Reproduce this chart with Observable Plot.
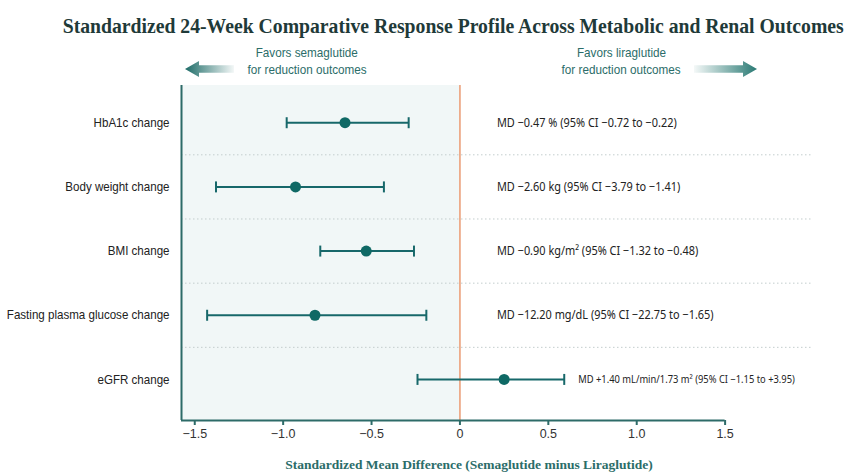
<!DOCTYPE html>
<html><head><meta charset="utf-8">
<script src="https://cdn.jsdelivr.net/npm/d3@7"></script>
<script src="https://cdn.jsdelivr.net/npm/@observablehq/plot@0.6"></script>
<style>
html,body{margin:0;padding:0;background:#fff;}
body{width:845px;height:472px;overflow:hidden;position:relative;font-family:"Liberation Sans",sans-serif;}
#title{position:absolute;left:-147px;top:13px;width:1200px;text-align:center;font-family:"Liberation Serif","DejaVu Serif",serif;font-weight:bold;font-size:22px;line-height:26px;color:#1f3a39;white-space:nowrap;}
#title span{display:inline-block;transform-origin:center;}
.hdr{position:absolute;top:44px;width:200px;text-align:center;font-size:13px;line-height:17px;color:#2b6d69;white-space:nowrap;}
.hdr span{display:inline-block;transform:scaleX(0.9);transform-origin:center;}
.arrow{position:absolute;top:61px;height:16px;}
#chart{position:absolute;left:0;top:80px;}
#xlabel{position:absolute;left:269px;width:400px;top:456px;text-align:center;font-family:"Liberation Serif","DejaVu Serif",serif;font-weight:bold;font-size:13.5px;line-height:18px;color:#2b6d69;white-space:nowrap;}
g[aria-label="x-axis tick"] path{stroke:#2d6b68;stroke-width:2;}
g[aria-label="x-axis tick label"] text{fill:#333;font-family:"Liberation Sans","Open Sans",sans-serif;font-size:12.5px;}
g[aria-label="y-axis tick label"] text{fill:#222;font-family:"Liberation Sans",sans-serif;font-size:13px;}
</style></head>
<body>
<div id="title"><span>Standardized 24-Week Comparative Response Profile Across Metabolic and Renal Outcomes</span></div>
<div class="hdr" style="left:207px"><span>Favors semaglutide</span><br><span>for reduction outcomes</span></div>
<div class="hdr" style="left:521px"><span>Favors liraglutide</span><br><span>for reduction outcomes</span></div>
<div class="arrow" style="left:185px;width:49px;background:linear-gradient(to right,#1d6b67,rgba(29,107,103,0.05));clip-path:polygon(0 50%,14px 0,14px 26%,100% 26%,100% 74%,14px 74%,14px 100%);"></div>
<div class="arrow" style="left:694px;width:63px;background:linear-gradient(to left,#2a7a74,rgba(42,122,116,0.05));clip-path:polygon(100% 50%,calc(100% - 14px) 0,calc(100% - 14px) 26%,0 26%,0 74%,calc(100% - 14px) 74%,calc(100% - 14px) 100%);"></div>
<div id="chart"></div>
<div id="xlabel">Standardized Mean Difference (Semaglutide minus Liraglutide)</div>
<script>
const rows = ["HbA1c change","Body weight change","BMI change","Fasting plasma glucose change","eGFR change"];
const md = [-0.65,-0.93,-0.53,-0.82,0.25];
const lo = [-0.98,-1.38,-0.79,-1.43,-0.24];
const hi = [-0.29,-0.43,-0.26,-0.19,0.59];
const notes = [
  "MD \u22120.47 % (95% CI \u22120.72 to \u22120.22)",
  "MD \u22122.60 kg (95% CI \u22123.79 to \u22121.41)",
  "MD \u22120.90 kg/m\u00b2 (95% CI \u22121.32 to \u22120.48)",
  "MD \u221212.20 mg/dL (95% CI \u221222.75 to \u22121.65)",
  "MD +1.40 mL/min/1.73 m\u00b2 (95% CI \u22121.15 to +3.95)"
];
const xTicks = [-1.5,-1.0,-0.5,0,0.5,1.0,1.5];

const data = rows.map((r,i)=>({i,row:r,md:md[i],lo:lo[i],hi:hi[i],note:notes[i]}));
const X0=-1.575, X1=2.0, Y0=-0.58, Y1=4.64;
const teal="#17686a", axisC="#2d6b68";
const fmt = d => d===0 ? "0" : d3.format(".1f")(d);
const capSymbol = {draw(ctx,size){const h=Math.sqrt(size/Math.PI);ctx.moveTo(0,-h);ctx.lineTo(0,h);}};

const plot = Plot.plot({
  width:845, height:372,
  marginLeft:181, marginRight:32, marginTop:5, marginBottom:32,
  x:{domain:[X0,X1]},
  y:{domain:[Y0,Y1], reverse:true},
  style:{background:"transparent", overflow:"visible"},
  marks:[
    Plot.rect([0],{x1:X0,x2:0,y1:Y0,y2:Y1,fill:"#f1f7f7"}),
    Plot.ruleY(d3.range(rows.length-1).map(i=>i+0.5),{x1:X0,x2:X1,stroke:"#c3cdcd",strokeWidth:1,strokeDasharray:"1.5,2.5"}),
    Plot.ruleX([0],{y1:Y0,y2:Y1,stroke:"#eba07a",strokeWidth:1.6}),
    Plot.ruleX([X0],{y1:Y0,y2:Y1,stroke:axisC,strokeWidth:2}),
    Plot.ruleY([Y1],{x1:X0,x2:1.5,stroke:axisC,strokeWidth:2}),
    Plot.axisX(xTicks,{tickSize:5,tickPadding:4,tickFormat:fmt,label:null}),
    Plot.axisY(d3.range(rows.length),{tickSize:0,tickPadding:12,tickFormat:i=>rows[i],label:null}),
    Plot.link(data,{x1:"lo",x2:"hi",y1:"i",y2:"i",stroke:teal,strokeWidth:2}),
    Plot.dot(data,{x:"lo",y:"i",r:5.5,symbol:capSymbol,stroke:teal,strokeWidth:2,fill:"none"}),
    Plot.dot(data,{x:"hi",y:"i",r:5.5,symbol:capSymbol,stroke:teal,strokeWidth:2,fill:"none"}),
    Plot.dot(data,{x:"md",y:"i",r:5.5,fill:"#0f6965",stroke:"none"}),
    Plot.text(data.filter(d=>d.i<4),{x:d=>Math.max(d.hi,0.13),y:"i",dx:14,text:"note",textAnchor:"start",fontSize:12,fill:"#222",className:"note"}),
    Plot.text(data.filter(d=>d.i===4),{x:d=>Math.max(d.hi,0.13),y:"i",dx:14,text:"note",textAnchor:"start",fontSize:10.5,fill:"#222",className:"note2"})
  ]
});
document.getElementById("chart").appendChild(plot);

function squeeze(sel, k){
  plot.querySelectorAll(sel).forEach(t=>{
    const L = t.getComputedTextLength();
    t.setAttribute("textLength", (L*k).toFixed(1));
    t.setAttribute("lengthAdjust","spacingAndGlyphs");
  });
}
squeeze('g[aria-label="y-axis tick label"] text', 0.89);
squeeze('g.note text', 0.91);
squeeze('g.note2 text', 0.89);

function fitTitle(){
  const span = document.querySelector("#title span");
  span.style.transform = "none";
  const w = span.getBoundingClientRect().width;
  span.style.transform = `scaleX(${781/w})`;
}
fitTitle();
if (document.fonts && document.fonts.ready) document.fonts.ready.then(fitTitle);
</script>
</body></html>
